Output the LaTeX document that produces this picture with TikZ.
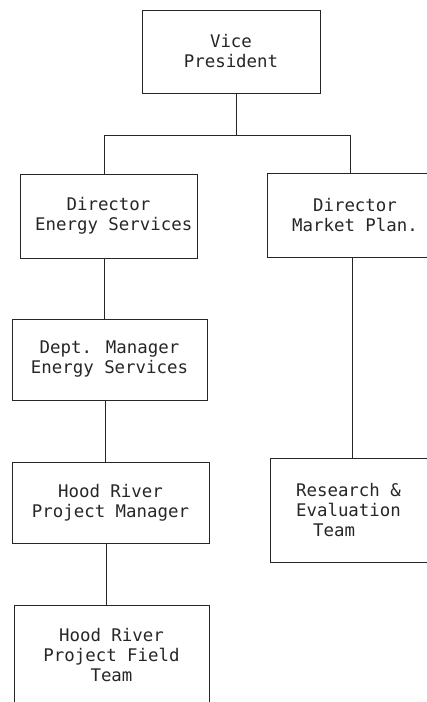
\documentclass[tikz,border=0pt]{standalone}
\usepackage{fontspec}
\newfontfamily\orgfont{DejaVu Sans Mono}
\begin{document}
\begin{tikzpicture}[x=1pt,y=-1pt,
  orgbox/.style={draw=black!85,line width=0.8pt,align=center,inner sep=0pt,
    font=\orgfont\fontsize{17.4}{20}\selectfont,text=black!85},
  link/.style={draw=black!85,line width=0.8pt}]
\useasboundingbox (0,0) rectangle (427,702);
\clip (0,0) rectangle (427,702);

% boxes
\node[orgbox,minimum width=178,minimum height=83] (vp) at (231,51.5) {Vice\\President};
\node[orgbox,minimum width=177,minimum height=84] (des) at (108.5,216) {Director\\\ Energy Services};
\node[orgbox,minimum width=176,minimum height=84] (dmp) at (355,215) {Director\\Market Plan.};
\node[orgbox,minimum width=195,minimum height=81] (dm) at (109.5,359.5) {Dept. Manager\\Energy Services};
\node[orgbox,minimum width=197,minimum height=81] (pm) at (110.5,502.5) {Hood River\\Project Manager};
\node[orgbox,minimum width=195,minimum height=100] (ft) at (111.5,655) {Hood River\\Project Field\\Team};
\node[orgbox,align=left,minimum width=176,minimum height=104] (rs) at (358,510)
  {Research \&\\Evaluation\rule{19pt}{0pt}\\\hspace*{17pt}Team};

% branch points
\coordinate (j)  at (236,135);
\coordinate (jl) at (104,135);
\coordinate (jr) at (350,135);
\coordinate (c1) at (104,0);
\coordinate (c2) at (105,0);
\coordinate (c3) at (106,0);
\coordinate (c4) at (352,0);

% connectors
\draw[link] (j |- vp.south) -- (j);
\draw[link] (jl) -- (jr);
\draw[link] (jl) -- (jl |- des.north);
\draw[link] (jr) -- (jr |- dmp.north);
\draw[link] (des.south -| c1) -- (dm.north -| c1);
\draw[link] (dm.south -| c2) -- (pm.north -| c2);
\draw[link] (pm.south -| c3) -- (ft.north -| c3);
\draw[link] (dmp.south -| c4) -- (rs.north -| c4);
\end{tikzpicture}
\end{document}
